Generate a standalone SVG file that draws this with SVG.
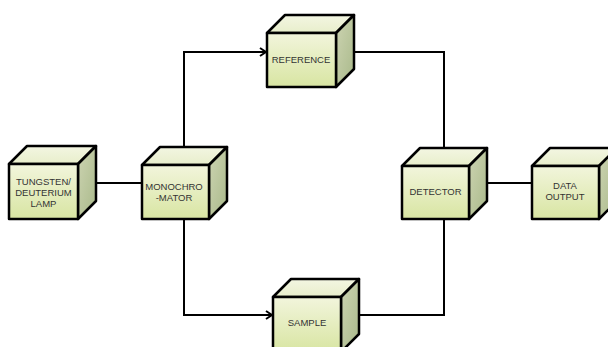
<svg xmlns="http://www.w3.org/2000/svg" width="608" height="347" viewBox="0 0 608 347">
<defs>
<linearGradient id="gFront" x1="0" y1="0" x2="0" y2="1">
<stop offset="0" stop-color="#f2f5dc"/>
<stop offset="1" stop-color="#d8e5a2"/>
</linearGradient>
<linearGradient id="gTop" x1="0" y1="0" x2="0" y2="1">
<stop offset="0" stop-color="#f3f6e2"/>
<stop offset="1" stop-color="#e8eecb"/>
</linearGradient>
<linearGradient id="gSide" x1="0" y1="0" x2="1" y2="1">
<stop offset="0" stop-color="#cdd4b2"/>
<stop offset="1" stop-color="#a9b98a"/>
</linearGradient>
<marker id="arr" viewBox="0 0 10 10" refX="9" refY="5" markerWidth="10" markerHeight="10" markerUnits="userSpaceOnUse" orient="auto">
<polyline points="3,1 9,5 3,9" fill="none" stroke="#000" stroke-width="2" stroke-linejoin="miter"/>
</marker>
</defs>
<style>
.front{fill:url(#gFront);stroke:#000;stroke-width:2.5;stroke-linejoin:round}
.top{fill:url(#gTop);stroke:#000;stroke-width:2.5;stroke-linejoin:round}
.side{fill:url(#gSide);stroke:#000;stroke-width:2.5;stroke-linejoin:round}
.lbl{font-family:"Liberation Sans",Arial,sans-serif;font-size:9.5px;fill:#333;text-anchor:middle}
.conn{fill:none;stroke:#000;stroke-width:2}
</style>
<rect width="608" height="347" fill="#fff"/>
<g id="connectors">
<path class="conn" d="M96,183 H142"/>
<path class="conn" d="M184,147 V52 H266" marker-end="url(#arr)"/>
<path class="conn" d="M184,219 V315 H272" marker-end="url(#arr)"/>
<path class="conn" d="M354,52 H444 V148"/>
<path class="conn" d="M359,315 H444 V219"/>
<path class="conn" d="M487,183 H532"/>
</g>
<g id="lamp">
<path class="top" d="M9,164 L27,146 L96,146 L78,164 Z"/>
<path class="side" d="M78,164 L96,146 L96,201 L78,219 Z"/>
<rect class="front" x="9" y="164" width="69" height="55"/>
<text class="lbl" x="43.5" y="185">TUNGSTEN/</text>
<text class="lbl" x="43.5" y="196">DEUTERIUM</text>
<text class="lbl" x="43.5" y="207">LAMP</text>
</g>
<g id="monochromator">
<path class="top" d="M142,165 L160,147 L227,147 L209,165 Z"/>
<path class="side" d="M209,165 L227,147 L227,201 L209,219 Z"/>
<rect class="front" x="142" y="165" width="67" height="54"/>
<text class="lbl" x="174" y="190">MONOCHRO</text>
<text class="lbl" x="174" y="201">-MATOR</text>
</g>
<g id="reference">
<path class="top" d="M267,33 L285,15 L354,15 L336,33 Z"/>
<path class="side" d="M336,33 L354,15 L354,69 L336,87 Z"/>
<rect class="front" x="267" y="33" width="69" height="54"/>
<text class="lbl" x="301" y="63">REFERENCE</text>
</g>
<g id="sample">
<path class="top" d="M273,297 L291,279 L359,279 L341,297 Z"/>
<path class="side" d="M341,297 L359,279 L359,334 L341,352 Z"/>
<rect class="front" x="273" y="297" width="68" height="55"/>
<text class="lbl" x="307" y="326">SAMPLE</text>
</g>
<g id="detector">
<path class="top" d="M402,166 L420,148 L487,148 L469,166 Z"/>
<path class="side" d="M469,166 L487,148 L487,201 L469,219 Z"/>
<rect class="front" x="402" y="166" width="67" height="53"/>
<text class="lbl" x="435.5" y="195">DETECTOR</text>
</g>
<g id="data-output">
<path class="top" d="M532,166 L550,148 L617,148 L599,166 Z"/>
<path class="side" d="M599,166 L617,148 L617,201 L599,219 Z"/>
<rect class="front" x="532" y="166" width="67" height="53"/>
<text class="lbl" x="565" y="189">DATA</text>
<text class="lbl" x="565" y="200">OUTPUT</text>
</g>
</svg>
